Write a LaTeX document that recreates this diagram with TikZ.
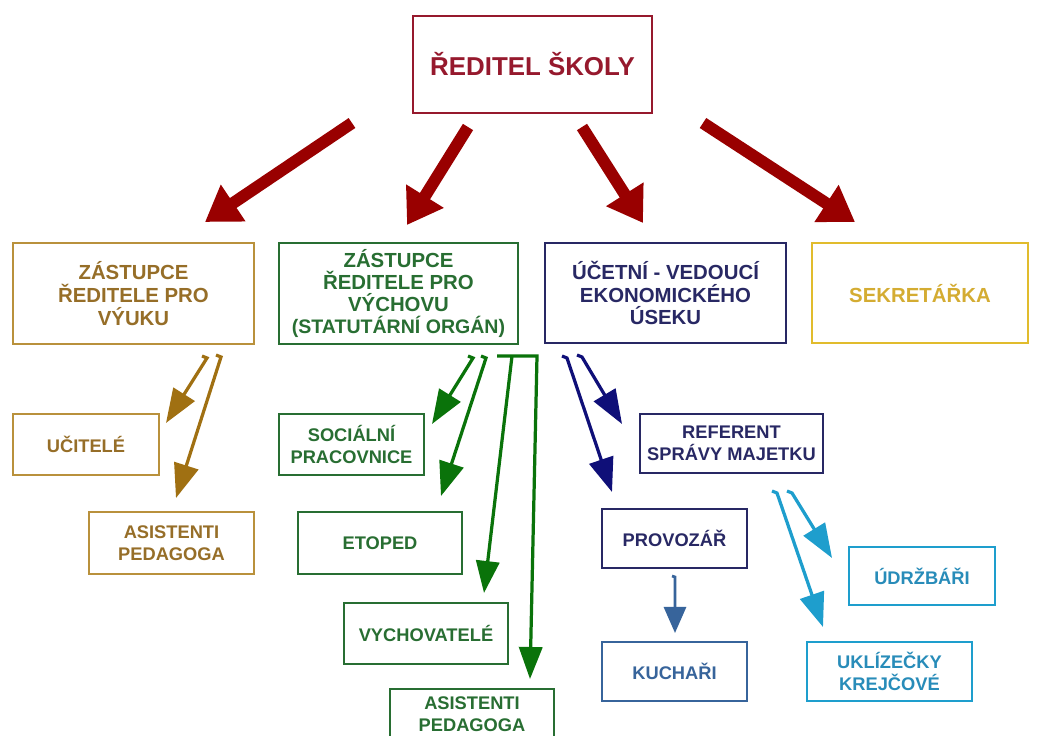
\documentclass[tikz,border=0pt]{standalone}
\usepackage{fontspec}
\setmainfont{Liberation Sans}
\usetikzlibrary{arrows.meta}

\definecolor{cervena}{RGB}{153,0,0}
\definecolor{cervtext}{RGB}{150,25,45}
\definecolor{zlata}{RGB}{160,112,18}
\definecolor{zlatabox}{RGB}{185,145,60}
\definecolor{zlatatext}{RGB}{150,110,40}
\definecolor{zelena}{RGB}{10,115,10}
\definecolor{zelenabox}{RGB}{40,110,50}
\definecolor{modra}{RGB}{15,15,120}
\definecolor{modrabox}{RGB}{40,40,100}
\definecolor{sekr}{RGB}{225,188,45}
\definecolor{sekrtext}{RGB}{212,172,50}
\definecolor{ocel}{RGB}{55,100,155}
\definecolor{azur}{RGB}{30,158,205}
\definecolor{azurtext}{RGB}{40,140,185}

\begin{document}
\begin{tikzpicture}[x=0.025cm,y=-0.025cm,
  wh/.style 2 args={minimum width=#1*0.025cm,minimum height=#2*0.025cm},
  box/.style={draw,line width=1.4pt,align=center,inner sep=1pt},
  velky/.style={box,font=\fontsize{14.5}{16.3}\selectfont\bfseries},
  maly/.style={box,font=\fontsize{13}{15.6}\selectfont\bfseries},
  redarrow/.style={draw=cervena,line width=8.5pt,-{Triangle[length=0.85cm,width=1.05cm]}},
  sipka/.style={line width=2.3pt,-{Triangle[length=0.85cm,width=0.62cm]}}]

 \fill[white] (0,0) rectangle (1040,736);
 \useasboundingbox (0,0) rectangle (1040,736);

 % vedeni
 \node[box,wh={239}{97},draw=cervtext,line width=1.2pt,text=cervtext,
       font=\fontsize{18.4}{20}\selectfont\bfseries] (reditel) at (532.5,64.5) {ŘEDITEL ŠKOLY};

 \node[velky,wh={241}{101},draw=zlatabox,text=zlatatext] (vyuka) at (133.5,293.5)
   {ZÁSTUPCE\\ŘEDITELE PRO\\VÝUKU};
 \node[velky,wh={239}{101},draw=zelenabox,text=zelenabox,font=\fontsize{14.5}{15.7}\selectfont\bfseries] (vychova) at (398.5,293.5)
   {ZÁSTUPCE\\ŘEDITELE PRO\\VÝCHOVU\\{\fontsize{13.9}{15.7}\selectfont(STATUTÁRNÍ ORGÁN)}};
 \node[velky,wh={241}{100},draw=modrabox,text=modrabox] (ucetni) at (665.5,293)
   {ÚČETNÍ - VEDOUCÍ\\EKONOMICKÉHO\\ÚSEKU};
 \node[velky,wh={216}{100},draw=sekr,text=sekrtext] (sekretarka) at (920,293) {SEKRETÁŘKA};

 % podrizeni
 \node[maly,wh={146}{61},draw=zlatabox,text=zlatatext] (ucitele) at (86,444.5) {UČITELÉ};
 \node[maly,wh={165}{62},draw=zlatabox,text=zlatatext] (asist1) at (171.5,543) {ASISTENTI\\PEDAGOGA};

 \node[maly,wh={145}{61},draw=zelenabox,text=zelenabox] (socialni) at (351.5,444.5) {SOCIÁLNÍ\\PRACOVNICE};
 \node[maly,wh={164}{62},draw=zelenabox,text=zelenabox] (etoped) at (380,543) {ETOPED};
 \node[maly,wh={164}{61},draw=zelenabox,text=zelenabox] (vychovatele) at (426,633.5) {VYCHOVATELÉ};
 \node[maly,wh={164}{50},draw=zelenabox,text=zelenabox] (asist2) at (472,714) {ASISTENTI\\PEDAGOGA};

 \node[maly,wh={183}{59},draw=modrabox,text=modrabox] (referent) at (731.5,443.5) {REFERENT\\SPRÁVY MAJETKU};
 \node[maly,wh={145}{59},draw=modrabox,text=modrabox] (provozar) at (674.5,538.5) {PROVOZÁŘ};
 \node[maly,wh={145}{59},draw=ocel,text=ocel] (kuchari) at (674.5,671.5) {KUCHAŘI};

 \node[maly,wh={146}{58},draw=azur,text=azurtext] (udrzbari) at (922,576) {ÚDRŽBÁŘI};
 \node[maly,wh={165}{59},draw=azur,text=azurtext] (uklizecky) at (889.5,671.5) {UKLÍZEČKY\\KREJČOVÉ};

 % konce sipek
 \coordinate (r1) at (352,123); \coordinate (r1k) at (205,222);
 \coordinate (r2) at (468,127); \coordinate (r2k) at (407,225);
 \coordinate (r3) at (582,127); \coordinate (r3k) at (643,223);
 \coordinate (r4) at (703,123); \coordinate (r4k) at (855,222);

 \coordinate (z1) at (207,358); \coordinate (z1k) at (166,423);
 \coordinate (z2) at (221,357); \coordinate (z2k) at (176,498);

 \coordinate (g1) at (473,358); \coordinate (g1k) at (432,424);
 \coordinate (g2) at (486,358); \coordinate (g2k) at (441,496);
 \coordinate (gb) at (497,356);
 \coordinate (g3) at (512,356); \coordinate (g3k) at (484,593);
 \coordinate (g4) at (537,356); \coordinate (g4k) at (530,679);

 \coordinate (m1) at (567,358); \coordinate (m1k) at (612,492);
 \coordinate (m2) at (582,357); \coordinate (m2k) at (622,424);

 \coordinate (c1) at (777,493); \coordinate (c1k) at (823,627);
 \coordinate (c2) at (792,493); \coordinate (c2k) at (832,558);

 \coordinate (k1) at (675,577); \coordinate (k1k) at (675,633);

 \foreach \a in {1,...,4}
   \draw[redarrow] (r\a) -- (r\a k);

 \foreach \a in {1,2}
   \draw[sipka,draw=zlata] (z\a) +(-5,-2) -- (z\a) -- (z\a k);

 \foreach \a in {1,2}
   \draw[sipka,draw=zelena] (g\a) +(-5,-2) -- (g\a) -- (g\a k);
 \draw[sipka,draw=zelena,-{Triangle[length=0.8cm,width=0.58cm]}] (g3) -- (g3k);
 \draw[sipka,draw=zelena,-{Triangle[length=0.8cm,width=0.58cm]}] (gb) -- (g4) -- (g4k);

 \foreach \a in {1,2}
   \draw[sipka,draw=modra] (m\a) +(-5,-2) -- (m\a) -- (m\a k);

 \foreach \a in {1,2}
   \draw[sipka,draw=azur] (c\a) +(-5,-2) -- (c\a) -- (c\a k);

 \draw[sipka,line width=2pt,draw=ocel,-{Triangle[length=0.65cm,width=0.55cm]}] (k1) +(-3,-1) -- (k1) -- (k1k);
\end{tikzpicture}
\end{document}
